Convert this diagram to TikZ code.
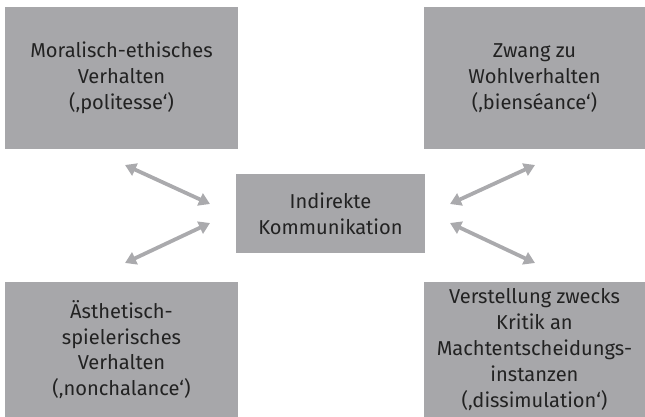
\documentclass[tikz,border=0pt]{standalone}
\usepackage{fontspec}
\setmainfont{Fira Sans}
\usepackage{tikz}
\usetikzlibrary{arrows.meta}
\definecolor{boxgray}{RGB}{167,167,170}
\definecolor{arrowgray}{RGB}{170,170,173}
\definecolor{textgray}{RGB}{34,34,34}

\begin{document}
\begin{tikzpicture}[
  x=1pt, y=-1pt,
  font=\fontsize{20.1}{25.8}\selectfont,
  box/.style={fill=boxgray, text=textgray, align=center, inner sep=0pt},
  link/.style={arrowgray, line width=3.8pt,
    {Triangle[length=11pt,width=13pt]}-{Triangle[length=11pt,width=13pt]}},
]
  \useasboundingbox (0,0) rectangle (645,417);

  % Boxes
  \node[box, minimum width=233pt, minimum height=142pt] (moral) at (121.5,78)
    {Moralisch-ethisches\\Verhalten\\(‚politesse‘)};
  \node[box, minimum width=221pt, minimum height=142pt] (zwang) at (534.5,78)
    {Zwang zu\\Wohlverhalten\\(‚bienséance‘)};
  \node[box, minimum width=189pt, minimum height=79pt] (indirekt) at (330.5,213.5)
    {Indirekte\\Kommunikation};
  \node[box, minimum width=233pt, minimum height=135pt] (aesth) at (121.5,349.5)
    {Ästhetisch-\\spielerisches\\Verhalten\\(‚nonchalance‘)};
  \node[box, minimum width=221pt, minimum height=135pt] (verst) at (534.5,349.5)
    {Verstellung zwecks\\Kritik an\\Machtentscheidungs-\\instanzen\\(‚dissimulation‘)};

  % Arrow ends
  \coordinate (mo) at (125,165);
  \coordinate (mi) at (210,204);
  \coordinate (ae) at (125,263);
  \coordinate (ai) at (210,223);
  \coordinate (zw) at (535,165);
  \coordinate (zi) at (450,204);
  \coordinate (ve) at (535,263);
  \coordinate (vi) at (450,223);

  % Arrows
  \foreach \a/\b in {mo/mi, ae/ai, zw/zi, ve/vi} {
    \draw[link] (\a) -- (\b);
  }
\end{tikzpicture}
\end{document}
